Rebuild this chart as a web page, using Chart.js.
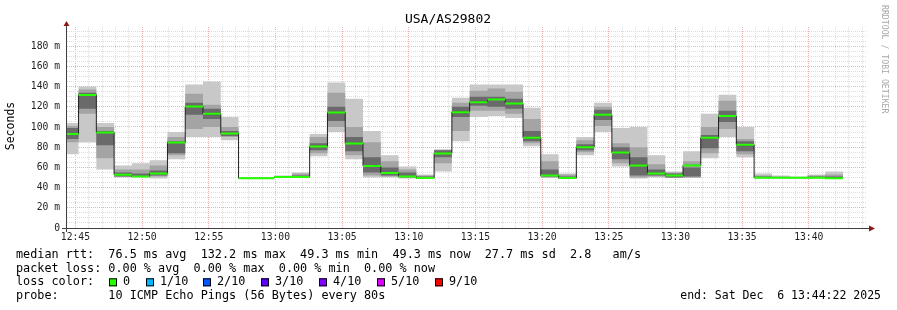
<!DOCTYPE html>
<html>
<head>
<meta charset="utf-8">
<script src="https://cdn.jsdelivr.net/npm/chart.js@4.4.0/dist/chart.umd.min.js"></script>
<style>
  body { margin: 0; background: #fff; }
</style>
</head>
<body>
<canvas id="rtt" width="897" height="310"></canvas>
<script>
// time in seconds since graph start (12:44:22), one probe round every 80 s
var graphStart = 12 * 3600 + 44 * 60 + 22;
var graphSpan = 3600;
var firstEdge = 52;
var probeStep = 80;

// median rtt per probe round (ms)
var medians = [93, 131.8, 94.6, 52.7, 51, 54, 84.7, 120.3, 113, 93.6,
  49.3, 49.3, 50.4, 50.4, 80.7, 114.3, 83.7, 61.3, 54.4, 51,
  49.4, 73.8, 114.7, 124.6, 127.2, 123.3, 89.3, 52, 49.4, 80,
  112, 74.8, 62, 54, 52, 62, 89.3, 110.8, 82.4, 49.8,
  49.8, 49.8, 49.8, 49.3];

// smoke: outer (min/max), middle and core bands of the 10 pings
var outerLo = [73, 85, 58, 50, 50, 49, 68, 90, 90, 87,
  49.3, 49.3, 49.5, 49.5, 71, 95, 68, 50, 50, 49,
  49, 56, 86, 110, 111, 109, 81, 49.5, 49, 72,
  95, 61, 49, 50, 49.5, 49.5, 69, 90, 70, 49.5,
  49.5, 49.5, 49.5, 49.3];
var outerHi = [104, 140, 104, 62, 64, 67, 95, 142, 145, 110,
  49.3, 49.3, 52, 55, 93, 144, 128, 96, 72, 61,
  53, 78, 129, 142, 142, 142, 119, 73, 54, 90,
  124, 99, 100, 72, 56, 76, 113, 132, 100, 54,
  52, 51, 53, 56];
var midLo = [85, 113, 69, 51, 51, 51, 72, 98, 100, 90,
  49.3, 49.3, 50, 50, 74, 100, 72, 52, 51, 50,
  49, 64, 96, 116, 116, 113, 84, 50, 49, 75,
  101, 64, 50, 51, 50, 50, 74, 98, 73, 49.5,
  49.5, 49.5, 49.5, 49.3];
var midHi = [101, 137, 100, 58, 58, 62, 90, 133, 122, 100,
  49.3, 49.3, 51.5, 54, 90, 134, 100, 85, 66, 58,
  52, 77, 124, 136, 138, 135, 108, 66, 53, 87,
  120, 84, 80, 63, 55, 66, 100, 126, 88, 52,
  51, 50.5, 52, 53];
var coreLo = [88, 118, 82, 51, 51, 52, 74, 112, 108, 91,
  49.3, 49.3, 50, 50, 77, 106, 76, 55, 52, 50,
  49, 70, 110, 121, 120, 118, 86, 51, 49, 77,
  107, 68, 52, 52, 50, 51, 79, 105, 76, 49.5,
  49.5, 49.5, 49.5, 49.3];
var coreHi = [99, 134, 96, 55, 54, 57, 86, 124, 118, 96,
  49.3, 49.3, 51, 52, 84, 120, 90, 70, 60, 55,
  51, 77, 120, 130, 130, 128, 96, 58, 51, 83,
  117, 80, 70, 58, 54, 60, 92, 116, 86, 51,
  50.5, 50, 51, 51];

var yTicks = [];
for (var v = 0; v <= 195; v += 5) yTicks.push(v);
var xTicks = [];
for (var t = 38; t < graphSpan; t += 60) xTicks.push(t);

var title = 'USA/AS29802';
var legendRows = [
  'median rtt:  76.5 ms avg  132.2 ms max  49.3 ms min  49.3 ms now  27.7 ms sd  2.8   am/s',
  'packet loss: 0.00 % avg  0.00 % max  0.00 % min  0.00 % now',
  'loss color:',
  'probe:       10 ICMP Echo Pings (56 Bytes) every 80s'
];
var lossLabels = ['0', '1/10', '2/10', '3/10', '4/10', '5/10', '9/10'];
var lossColors = ['#26ff00', '#00b8ff', '#0059ff', '#5e00ff', '#7e00ff', '#dd00ff', '#ff0000'];
var lossBoxX = [109, 146, 203, 261, 319, 377, 435];
var endText = 'end: Sat Dec  6 13:44:22 2025';

function stepStart(i) { return i === 0 ? 0 : firstEdge + probeStep * (i - 1); }
function stepEnd(i) { return firstEdge + probeStep * i; }

function steps(vals) {
  var pts = vals.map(function (v, i) { return { x: stepStart(i), y: v }; });
  pts.push({ x: stepEnd(vals.length - 1), y: vals[vals.length - 1] });
  return pts;
}

function flats(vals) {
  var pts = [];
  vals.forEach(function (v, i) {
    pts.push({ x: stepStart(i), y: v }, { x: stepEnd(i), y: v }, { x: stepEnd(i), y: null });
  });
  return pts;
}

function band(lo, hi, colour, order) {
  var base = { pointRadius: 0, borderWidth: 0, borderColor: 'transparent', stepped: true, order: order };
  return [
    Object.assign({ data: steps(lo), fill: false }, base),
    Object.assign({ data: steps(hi), fill: '-1', backgroundColor: colour }, base)
  ];
}

var datasets = []
  .concat(band(outerLo, outerHi, '#c8c8c8', 10))
  .concat(band(midLo, midHi, '#a4a4a4', 9))
  .concat(band(coreLo, coreHi, '#6a6a6a', 8));
datasets.push({ data: steps(medians), stepped: true, pointRadius: 0, borderWidth: 1, borderColor: '#202020', fill: false, order: 2 });
datasets.push({ data: flats(medians), pointRadius: 0, borderWidth: 2, borderColor: '#26ff00', fill: false, spanGaps: false, order: 1 });

function clock(val) {
  var s = graphStart + val;
  var h = Math.floor(s / 3600), m = Math.floor(s / 60) % 60;
  return { h: h, m: m, txt: h + ':' + (m < 10 ? '0' : '') + m };
}

var mono = 'DejaVu Sans Mono';

var decor = {
  id: 'decor',
  afterDraw: function (chart) {
    var c = chart.ctx, a = chart.chartArea;
    c.save();
    // axes with arrows
    c.strokeStyle = '#404040';
    c.lineWidth = 1;
    c.beginPath();
    c.moveTo(a.left - 0.5, a.bottom + 4);
    c.lineTo(a.left - 0.5, a.top - 4);
    c.moveTo(a.left - 5, a.bottom + 0.5);
    c.lineTo(a.right + 3, a.bottom + 0.5);
    c.stroke();
    c.fillStyle = '#8b1a1a';
    c.beginPath();
    c.moveTo(a.left - 3.5, a.top - 1);
    c.lineTo(a.left + 2.5, a.top - 1);
    c.lineTo(a.left - 0.5, a.top - 6);
    c.closePath();
    c.fill();
    c.beginPath();
    c.moveTo(a.right + 2, a.bottom - 2.5);
    c.lineTo(a.right + 2, a.bottom + 3.5);
    c.lineTo(a.right + 8, a.bottom + 0.5);
    c.closePath();
    c.fill();

    c.fillStyle = '#000';
    c.textBaseline = 'middle';
    c.font = '13px "' + mono + '"';
    c.textAlign = 'center';
    c.fillText(title, 448, 19.5);

    c.font = '11.5px "' + mono + '"';
    c.save();
    c.translate(11, 126);
    c.rotate(-Math.PI / 2);
    c.fillText('Seconds', 0, 0);
    c.restore();

    c.font = '11.8px "' + mono + '"';
    c.textAlign = 'left';
    var rowY = [255, 268.5, 282.3, 296];
    legendRows.forEach(function (r, i) { c.fillText(r, 16, rowY[i]); });
    lossLabels.forEach(function (lab, i) {
      c.fillStyle = lossColors[i];
      c.fillRect(lossBoxX[i], rowY[2] - 4, 8, 8);
      c.strokeStyle = '#000';
      c.strokeRect(lossBoxX[i] + 0.5, rowY[2] - 3.5, 7, 7);
      c.fillStyle = '#000';
      c.fillText(lab, lossBoxX[i] + 14, rowY[2]);
    });
    c.font = '11.5px "' + mono + '"';
    c.textAlign = 'right';
    c.fillText(endText, 881, rowY[3]);

    c.fillStyle = '#a8a8a8';
    c.font = '8.2px "' + mono + '"';
    c.textAlign = 'left';
    c.save();
    c.translate(884, 5);
    c.rotate(Math.PI / 2);
    c.fillText('RRDTOOL / TOBI OETIKER', 0, 0);
    c.restore();
    c.restore();
  }
};

new Chart(document.getElementById('rtt'), {
  type: 'line',
  data: { datasets: datasets },
  options: {
    responsive: false,
    animation: false,
    devicePixelRatio: 1,
    layout: { padding: { top: 27, right: 30, left: 0, bottom: 0 } },
    plugins: { legend: { display: false }, tooltip: { enabled: false } },
    scales: {
      x: {
        type: 'linear',
        min: 0,
        max: graphSpan,
        z: 1,
        afterBuildTicks: function (s) { s.ticks = xTicks.map(function (v) { return { value: v }; }); },
        afterFit: function (s) { s.height = 82; },
        ticks: {
          autoSkip: false,
          maxRotation: 0,
          padding: 4,
          color: '#222',
          font: { family: mono, size: 9.7 },
          callback: function (val) { var k = clock(val); return k.m % 5 === 0 ? k.txt : ''; }
        },
        grid: {
          drawTicks: false,
          color: function (ctx) {
            if (!ctx.tick) return 'transparent';
            return clock(ctx.tick.value).m % 5 === 0 ? '#f0b0b0' : '#dcdcdc';
          }
        },
        border: { display: false, dash: [1, 1] }
      },
      y: {
        min: 0,
        max: 199,
        z: 1,
        afterBuildTicks: function (s) { s.ticks = yTicks.map(function (v) { return { value: v }; }); },
        afterFit: function (s) { s.width = 67; },
        ticks: {
          autoSkip: false,
          padding: 7,
          color: '#222',
          font: { family: mono, size: 9.7 },
          callback: function (val) { return val % 20 === 0 ? (val === 0 ? '0' : val + ' m') : ''; }
        },
        grid: {
          drawTicks: false,
          color: function (ctx) {
            if (!ctx.tick || ctx.tick.value === 0) return 'transparent';
            return ctx.tick.value % 20 === 0 ? '#f0b0b0' : '#dcdcdc';
          }
        },
        border: { display: false, dash: [1, 1] }
      }
    }
  },
  plugins: [decor]
});
</script>
</body>
</html>
